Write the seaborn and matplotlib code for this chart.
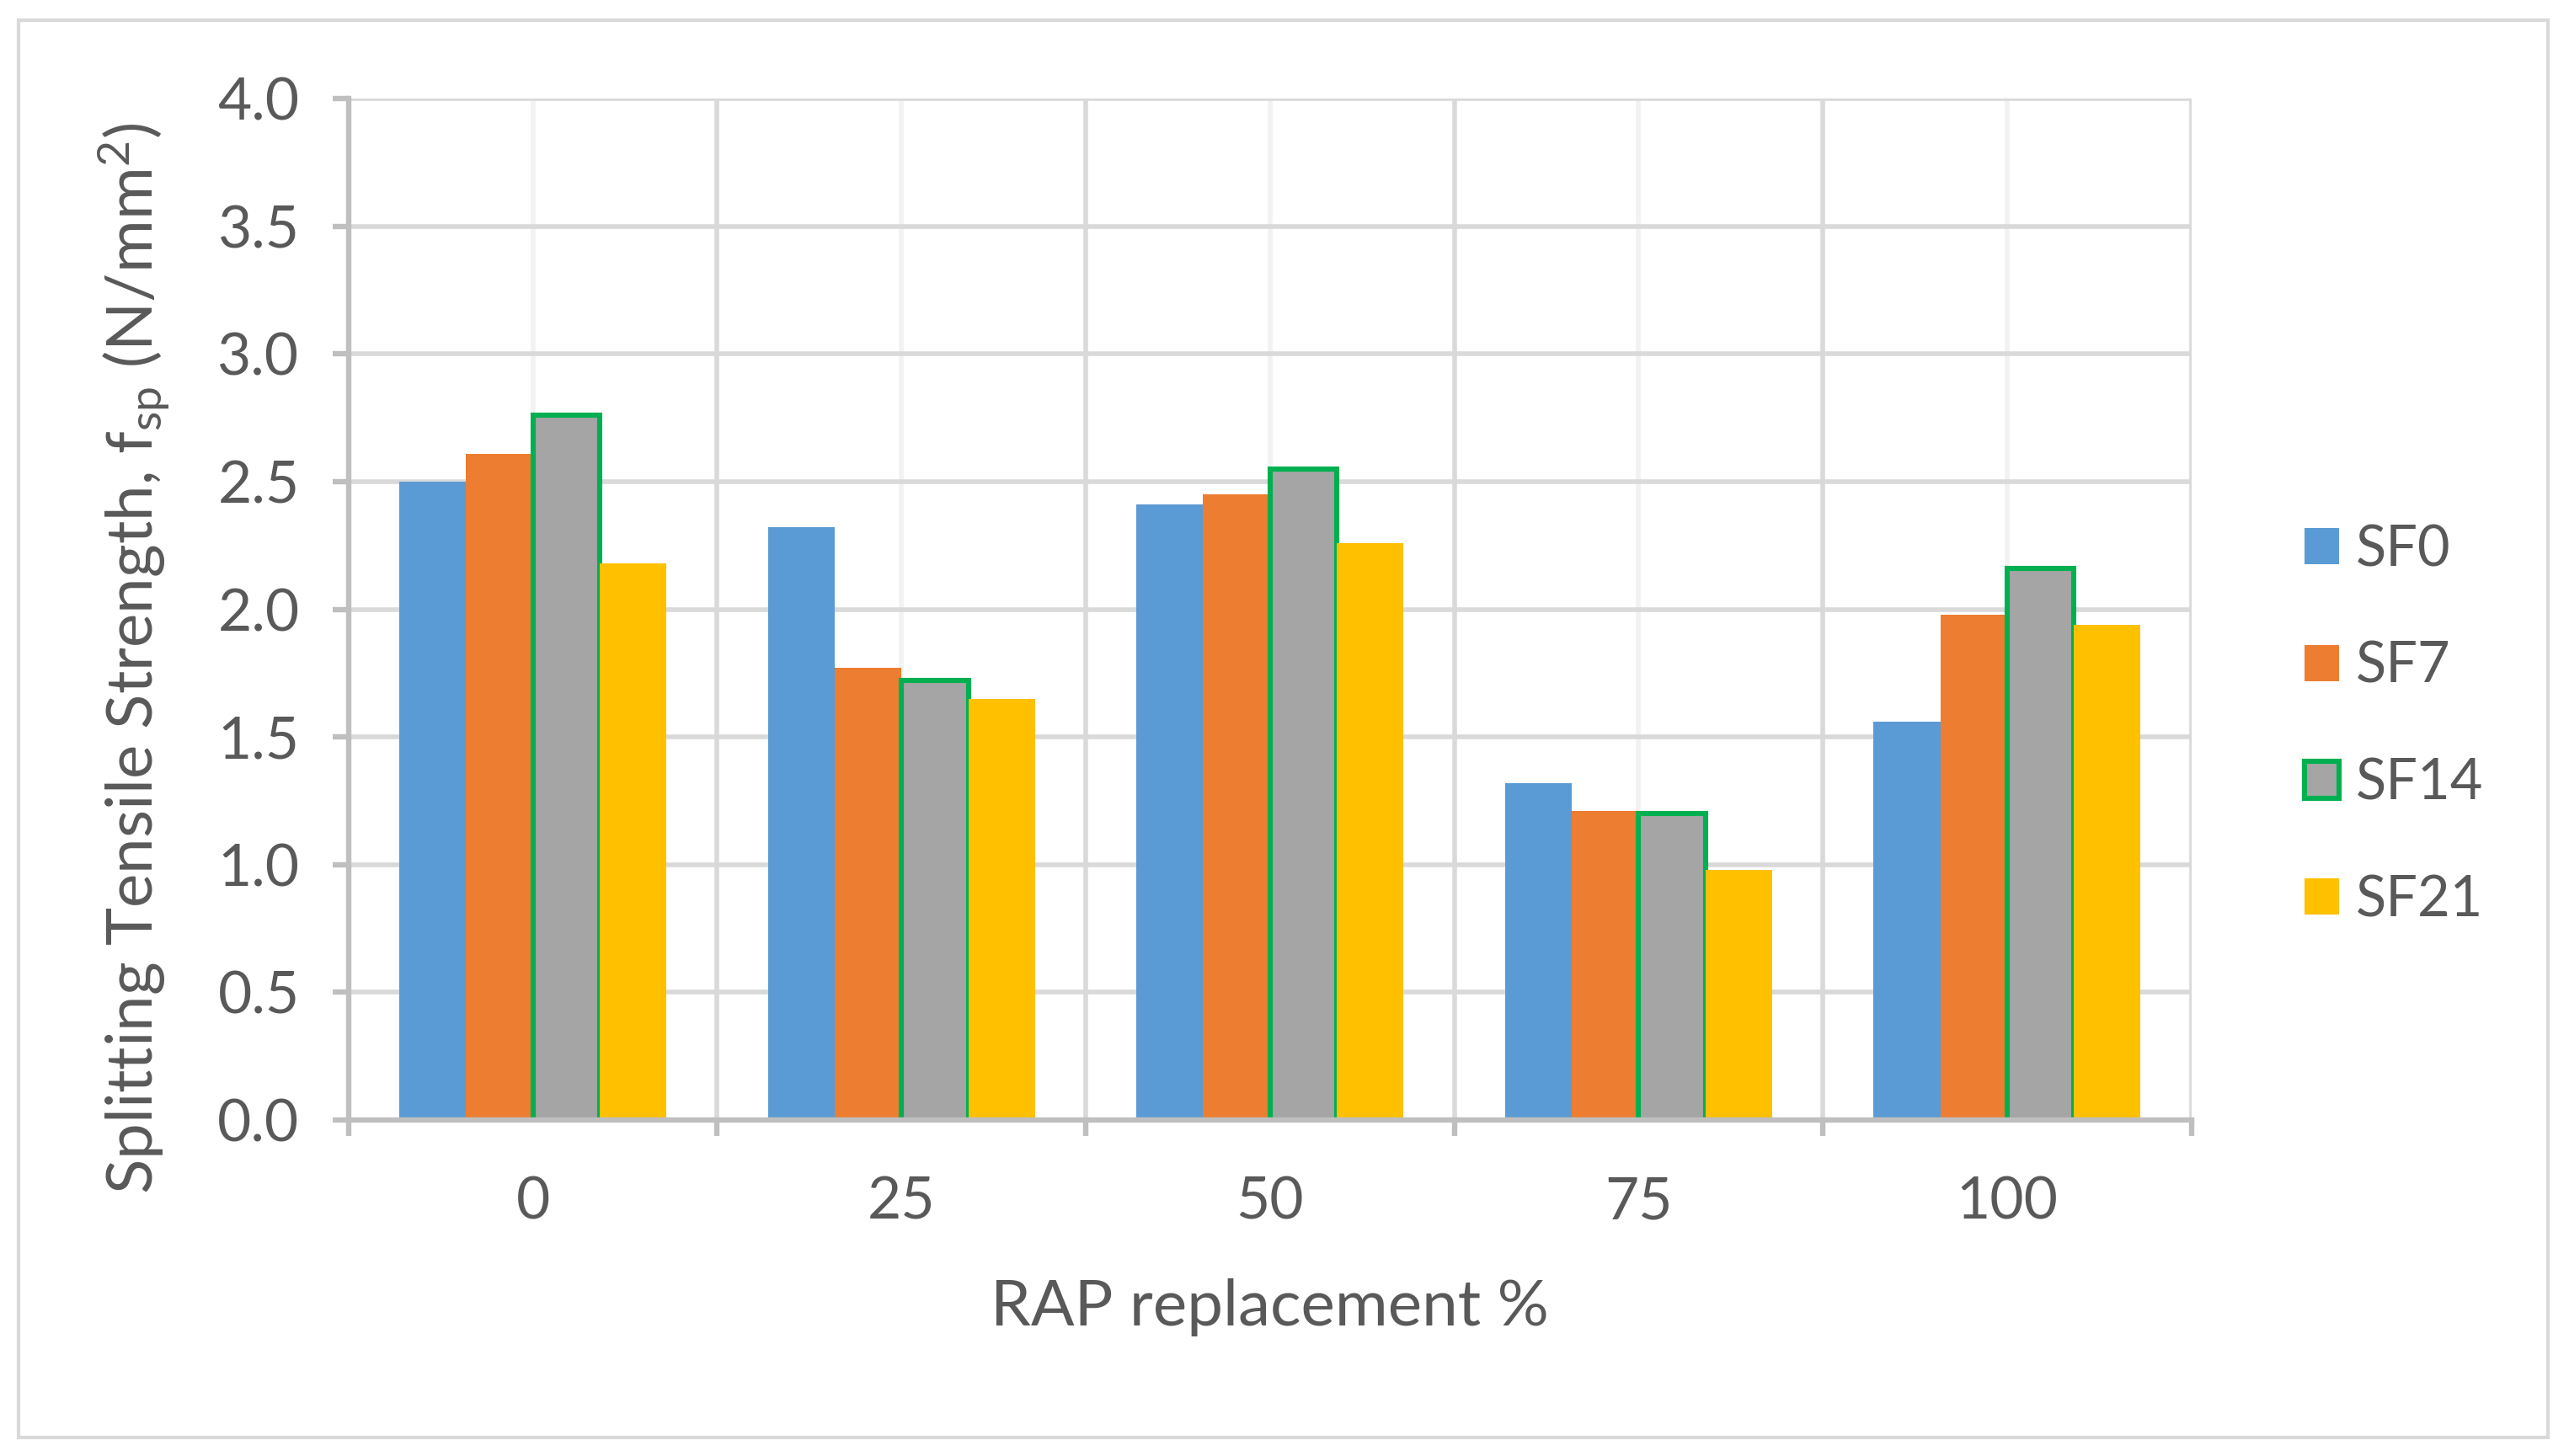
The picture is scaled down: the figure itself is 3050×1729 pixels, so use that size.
import numpy as np
import pandas as pd
import matplotlib
matplotlib.use("Agg")
import matplotlib.pyplot as plt
import seaborn as sns
from matplotlib.patches import Patch, Rectangle

# data
rap = ["0", "25", "50", "75", "100"]
series = ["SF0", "SF7", "SF14", "SF21"]
sf0 = [2.50, 2.32, 2.41, 1.32, 1.56]
sf7 = [2.61, 1.77, 2.45, 1.21, 1.98]
sf14 = [2.76, 1.72, 2.55, 1.20, 2.16]
sf21 = [2.18, 1.65, 2.26, 0.98, 1.94]
y_ticks = [0.0, 0.5, 1.0, 1.5, 2.0, 2.5, 3.0, 3.5, 4.0]

colors = ["#5B9BD5", "#ED7D31", "#A5A5A5", "#FFC000"]
green = "#00B050"
text_col = "#595959"
axis_col = "#BFBFBF"
grid_col = "#D9D9D9"

df = pd.DataFrame({
    "RAP": rap * len(series),
    "mix": np.repeat(series, len(rap)),
    "fsp": sf0 + sf7 + sf14 + sf21,
})

sns.set_theme(style="white")
plt.rcParams["font.family"] = ["Lato", "DejaVu Sans"]
plt.rcParams["mathtext.default"] = "regular"

fig = plt.figure(figsize=(15.25, 8.645), dpi=200)
ax = fig.add_axes([0.1357, 0.2308, 0.853 - 0.1357, 0.9323 - 0.2308])

sns.barplot(data=df, x="RAP", y="fsp", hue="mix", order=rap, hue_order=series,
            palette=colors, saturation=1, width=0.725, errorbar=None,
            linewidth=0, legend=False, ax=ax)

# green outline on SF14 bars
for bar in ax.containers[2]:
    bar.set_edgecolor(green)
    bar.set_linewidth(2.2)

ax.set_xlim(-0.5, 4.5)
ax.set_ylim(0, 4.0)
ax.set_yticks(y_ticks)
ax.set_yticklabels([f"{t:.1f}" for t in y_ticks])
ax.set_xticks(np.arange(-0.5, 5, 1), minor=True)

ax.set_axisbelow(True)
ax.grid(which="major", axis="y", color=grid_col, lw=2)
ax.grid(which="minor", axis="x", color=grid_col, lw=2)
ax.grid(which="major", axis="x", color="#F2F2F2", lw=2)

for s in ["top", "right"]:
    ax.spines[s].set_visible(False)
for s in ["left", "bottom"]:
    ax.spines[s].set_color(axis_col)
    ax.spines[s].set_linewidth(2.3)

ax.tick_params(axis="y", which="major", left=True, length=7, width=2.3,
               color=axis_col, direction="out", pad=14, labelsize=25,
               labelcolor=text_col)
ax.tick_params(axis="x", which="major", bottom=True, length=0, pad=24,
               labelsize=25, labelcolor=text_col)
ax.tick_params(axis="x", which="minor", bottom=True, length=7, width=2.3,
               color=axis_col, direction="out")

ax.set_xlabel("RAP replacement %", fontsize=27.5, color=text_col)
ax.set_ylabel("Splitting Tensile Strength, f$_{sp}$ (N/mm$^{2}$)",
              fontsize=27.5, color=text_col)
ax.xaxis.set_label_coords(0.5, -0.155)
ax.yaxis.set_label_coords(-0.096, 0.452)

handles = [Patch(facecolor=c, edgecolor=(green if s == "SF14" else "none"),
                 lw=2.2) for s, c in zip(series, colors)]
leg = fig.legend(handles, series, loc="center left", bbox_to_anchor=(0.897, 0.502),
                 frameon=False, fontsize=24, handlelength=0.62, handleheight=0.62,
                 handletextpad=0.3, labelspacing=1.15, borderpad=0,
                 borderaxespad=0)
for t in leg.get_texts():
    t.set_color(text_col)

# chart area border
fig.patches.append(Rectangle((22 / 3050, 1 - 1707 / 1729), 3003 / 3050, 1683 / 1729,
                             transform=fig.transFigure, fill=False,
                             edgecolor=grid_col, lw=1.5))

fig.savefig("out.png", dpi=200)
